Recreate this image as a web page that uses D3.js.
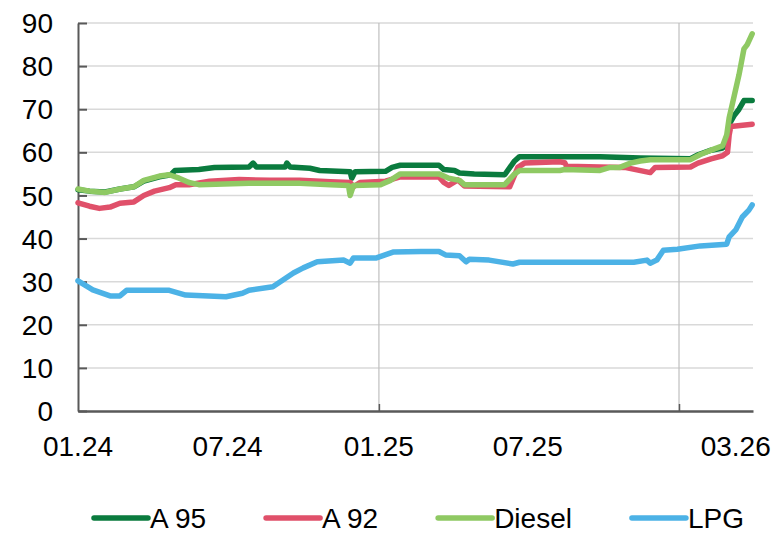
<!DOCTYPE html>
<html lang="en">
<head>
    <meta charset="UTF-8">
    <title>Fuel prices</title>
    <script src="https://d3js.org/d3.v7.min.js"></script>
    <style>
        body { margin: 0; background: #fff; }
        svg text { font-family: "Liberation Sans", Arial, sans-serif; fill: #000; }
    </style>
</head>
<body>
<div id="chart"></div>
<script>
    // series
    const a95Dates = ["2024-01-01","2024-01-15","2024-02-03","2024-02-21","2024-03-09","2024-03-21","2024-04-09","2024-04-23","2024-04-28","2024-05-27","2024-06-15","2024-07-27","2024-08-01","2024-08-05","2024-09-09","2024-09-11","2024-09-15","2024-10-09","2024-10-21","2024-11-27","2024-11-29","2024-12-03","2025-01-09","2025-01-17","2025-01-27","2025-03-15","2025-03-21","2025-04-03","2025-04-09","2025-04-27","2025-06-03","2025-06-15","2025-06-21","2025-09-27","2025-11-15","2026-01-15","2026-01-25","2026-02-09","2026-02-23","2026-02-28","2026-03-03","2026-03-09","2026-03-15","2026-03-21","2026-03-31"];
    const a95Values = [51.3,51.0,50.8,51.5,52.0,53.3,54.3,54.8,55.8,56.0,56.5,56.6,57.5,56.6,56.6,57.5,56.6,56.3,55.8,55.5,54.0,55.5,55.6,56.5,57.0,57.0,56.0,55.8,55.2,55.0,54.8,58.0,59.0,59.0,58.7,58.5,59.5,60.5,61.0,62.5,66.5,68.5,70.0,72.0,72.0];

    const a92Dates = ["2024-01-01","2024-01-15","2024-01-27","2024-02-09","2024-02-21","2024-03-09","2024-03-21","2024-04-03","2024-04-21","2024-04-29","2024-05-15","2024-06-09","2024-07-15","2024-08-21","2024-09-27","2024-11-03","2024-11-27","2024-12-01","2024-12-09","2025-01-09","2025-01-27","2025-03-15","2025-03-21","2025-03-27","2025-04-07","2025-04-15","2025-06-09","2025-06-19","2025-06-27","2025-08-09","2025-08-15","2025-08-17","2025-09-27","2025-10-27","2025-11-27","2025-12-03","2026-01-15","2026-01-24","2026-02-09","2026-02-23","2026-03-01","2026-03-03","2026-03-05","2026-03-31"];
    const a92Values = [48.3,47.5,47.0,47.3,48.2,48.5,50.0,51.0,51.8,52.5,52.5,53.3,53.7,53.5,53.5,53.2,53.0,52.0,53.0,53.3,54.3,54.3,53.0,52.3,53.6,52.2,52.0,56.5,57.5,57.8,57.6,56.8,56.6,56.5,55.3,56.5,56.6,57.5,58.5,59.2,60.0,64.0,66.0,66.5];

    const dieselDates = ["2024-01-01","2024-01-15","2024-02-03","2024-02-21","2024-03-09","2024-03-21","2024-04-09","2024-04-21","2024-05-03","2024-05-15","2024-05-27","2024-07-27","2024-09-27","2024-11-03","2024-11-25","2024-11-27","2024-12-01","2025-01-03","2025-01-15","2025-01-27","2025-03-15","2025-03-27","2025-04-09","2025-04-15","2025-06-03","2025-06-15","2025-06-21","2025-08-09","2025-08-15","2025-09-27","2025-10-09","2025-10-21","2025-11-03","2025-11-15","2025-11-27","2026-01-15","2026-01-27","2026-02-09","2026-02-23","2026-02-28","2026-03-03","2026-03-09","2026-03-15","2026-03-21","2026-03-25","2026-03-31"];
    const dieselValues = [51.5,51.0,50.7,51.5,52.0,53.5,54.5,54.8,54.0,53.0,52.5,52.8,52.8,52.5,52.3,50.0,52.3,52.5,53.5,55.0,55.0,54.0,53.5,52.5,52.5,55.0,55.8,55.8,56.0,55.8,56.5,56.5,57.5,58.0,58.3,58.3,59.5,60.5,61.5,64.0,68.0,73.0,78.0,84.0,85.0,87.5];

    const lpgDates = ["2024-01-01","2024-01-19","2024-02-09","2024-02-21","2024-02-29","2024-04-21","2024-05-11","2024-06-29","2024-07-19","2024-07-27","2024-08-25","2024-09-19","2024-10-01","2024-10-18","2024-11-19","2024-11-27","2024-12-01","2024-12-29","2025-01-19","2025-02-21","2025-03-15","2025-03-23","2025-04-09","2025-04-17","2025-04-21","2025-05-15","2025-06-13","2025-06-21","2025-11-07","2025-11-23","2025-11-27","2025-12-05","2025-12-13","2025-12-30","2026-01-27","2026-02-28","2026-03-03","2026-03-11","2026-03-19","2026-03-27","2026-03-31"];
    const lpgValues = [30.2,28.1,26.7,26.7,28.0,28.0,26.9,26.5,27.3,28.0,28.8,32.0,33.2,34.6,35.0,34.3,35.5,35.5,36.9,37.0,37.0,36.2,36.0,34.6,35.2,35.0,34.1,34.5,34.5,35.0,34.3,35.0,37.3,37.5,38.3,38.7,40.4,42.0,45.0,46.6,47.8];

    const seriesNames = ["A 95", "A 92", "Diesel", "LPG"];
    const seriesColors = ["#0a7b3e", "#e0506a", "#8fc963", "#4cb2e6"];

    const xTickDates = ["2024-01-01", "2024-07-01", "2025-01-01", "2025-07-01", "2026-03-11"];
    const xTickLabels = ["01.24", "07.24", "01.25", "07.25", "03.26"];
    const xGridDates = ["2025-01-01", "2026-01-01"];
    const yTicks = [0, 10, 20, 30, 40, 50, 60, 70, 80, 90];

    const parse = d3.timeParse("%Y-%m-%d");
    const series = [
        { dates: a95Dates, values: a95Values },
        { dates: a92Dates, values: a92Values },
        { dates: dieselDates, values: dieselValues },
        { dates: lpgDates, values: lpgValues }
    ].map((s, i) => ({
        name: seriesNames[i],
        color: seriesColors[i],
        points: s.dates.map((d, j) => ({ date: parse(d), value: s.values[j] }))
    }));

    const width = 775, height = 534;
    const margin = { top: 23, right: 22, bottom: 123, left: 78 };
    const fontSize = "28px";

    const svg = d3.select("#chart").append("svg")
        .attr("width", width)
        .attr("height", height);

    const x = d3.scaleTime()
        .domain([parse("2024-01-01"), parse("2026-04-01")])
        .range([margin.left, width - margin.right]);

    const y = d3.scaleLinear()
        .domain([0, 90])
        .range([height - margin.bottom, margin.top]);

    // horizontal gridlines
    svg.append("g")
        .selectAll("line")
        .data(yTicks.filter(d => d > 0))
        .join("line")
        .attr("x1", margin.left)
        .attr("x2", width - margin.right)
        .attr("y1", d => y(d))
        .attr("y2", d => y(d))
        .attr("stroke", "#d9d9d9")
        .attr("stroke-width", 1.5);

    // vertical gridlines at year starts
    svg.append("g")
        .selectAll("line")
        .data(xGridDates.map(parse))
        .join("line")
        .attr("x1", d => x(d))
        .attr("x2", d => x(d))
        .attr("y1", margin.top)
        .attr("y2", y(0))
        .attr("stroke", "#bfbfbf")
        .attr("stroke-width", 1.2);

    // y axis with inward ticks
    const yAxis = svg.append("g")
        .attr("transform", `translate(${margin.left},0)`)
        .call(d3.axisRight(y).tickValues(yTicks).tickSize(9).tickSizeOuter(0).tickFormat(""));
    yAxis.select(".domain").attr("stroke", "#595959").attr("stroke-width", 2);
    yAxis.selectAll(".tick line").attr("stroke", "#595959").attr("stroke-width", 2);

    svg.append("g")
        .selectAll("text")
        .data(yTicks)
        .join("text")
        .attr("x", margin.left - 25)
        .attr("y", d => y(d))
        .attr("dy", "0.36em")
        .attr("text-anchor", "end")
        .attr("font-size", fontSize)
        .text(d => d);

    // x axis
    const xAxis = svg.append("g")
        .attr("transform", `translate(0,${y(0)})`)
        .call(d3.axisTop(x).tickValues(xGridDates.map(parse)).tickSize(7).tickSizeOuter(0).tickFormat(""));
    xAxis.select(".domain").attr("stroke", "#595959").attr("stroke-width", 2.5);
    xAxis.selectAll(".tick line").attr("stroke", "#595959").attr("stroke-width", 1.5);

    svg.append("g")
        .selectAll("text")
        .data(xTickDates.map(parse))
        .join("text")
        .attr("x", d => x(d))
        .attr("y", y(0) + 35)
        .attr("dy", "0.36em")
        .attr("text-anchor", "middle")
        .attr("font-size", fontSize)
        .text((d, i) => xTickLabels[i]);

    // lines
    const line = d3.line()
        .x(d => x(d.date))
        .y(d => y(d.value));

    svg.append("g")
        .selectAll("path")
        .data(series)
        .join("path")
        .attr("d", d => line(d.points))
        .attr("fill", "none")
        .attr("stroke", d => d.color)
        .attr("stroke-width", 5.5)
        .attr("stroke-linejoin", "round")
        .attr("stroke-linecap", "round");

    // legend
    const legend = svg.append("g").attr("transform", `translate(0,${height - 16})`);
    let lx = 94;
    series.forEach(s => {
        legend.append("line")
            .attr("x1", lx).attr("x2", lx + 54)
            .attr("y1", 0).attr("y2", 0)
            .attr("stroke", s.color)
            .attr("stroke-width", 5.5)
            .attr("stroke-linecap", "round");
        const t = legend.append("text")
            .attr("x", lx + 56)
            .attr("y", 0)
            .attr("dy", "0.34em")
            .attr("font-size", fontSize)
            .text(s.name);
        lx += 56 + t.node().getComputedTextLength() + 60;
    });
</script>
</body>
</html>
